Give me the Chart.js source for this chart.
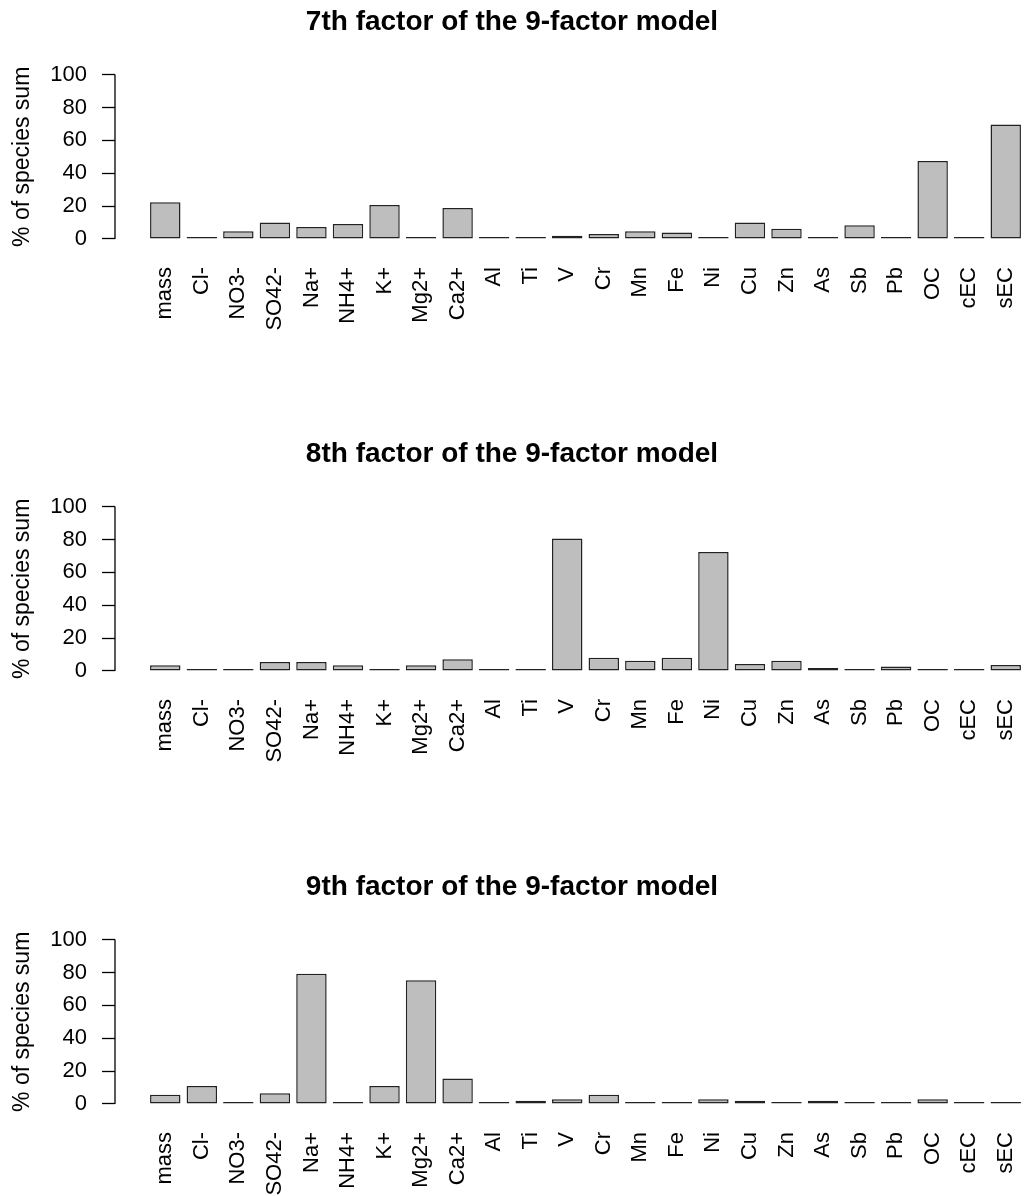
<!DOCTYPE html>
<html>
<head>
<meta charset="utf-8">
<script src="https://cdn.jsdelivr.net/npm/chart.js@4/dist/chart.umd.min.js"></script>
<style>
  html, body { margin: 0; padding: 0; background: #fff; overflow: hidden; }
  body { width: 1030px; height: 1196px; position: relative; }
  .panel { position: absolute; left: 0; width: 1030px; height: 432px; }
</style>
</head>
<body>
<div class="panel" style="top:0px"><canvas id="f7"></canvas></div>
<div class="panel" style="top:432px"><canvas id="f8"></canvas></div>
<div class="panel" style="top:865px"><canvas id="f9"></canvas></div>
<script>
const species = ["mass", "Cl-", "NO3-", "SO42-", "Na+", "NH4+", "K+", "Mg2+", "Ca2+", "Al", "Ti", "V",
    "Cr", "Mn", "Fe", "Ni", "Cu", "Zn", "As", "Sb", "Pb", "OC", "cEC", "sEC"];

const factor7 = [22.4, 0, 4.7, 10.0, 7.3, 9.1, 20.7, 0, 18.9, 0, 0, 2.0,
    3.0, 4.7, 3.9, 0, 10.0, 6.3, 0, 8.3, 0, 47.4, 0, 69.7];
const factor8 = [3.5, 0, 0, 5.5, 5.5, 3.5, 0, 3.5, 7.1, 0, 0, 80.6,
    8.0, 6.3, 8.0, 72.4, 4.3, 6.3, 1.8, 0, 2.7, 0.8, 0, 3.7];
const factor9 = [5.7, 11.0, 0, 6.5, 79.2, 0.8, 11.0, 75.3, 15.5, 0.8, 2.0, 2.9,
    5.7, 0.8, 0, 2.9, 2.0, 0.8, 2.0, 0, 0, 2.9, 0, 0];

const yMin = 0;
const yMax = 100;
const yStep = 20;

const FONT = "'Liberation Sans', Arial, sans-serif";

// R style y axis: line detached from the plot region
const rAxisLine = {
    id: "rAxisLine",
    afterDraw(chart) {
        const y = chart.scales.y;
        const x = chart.chartArea.left - 32;
        const ctx = chart.ctx;
        ctx.save();
        ctx.strokeStyle = "#000";
        ctx.lineWidth = 1.3;
        ctx.beginPath();
        ctx.moveTo(x, y.getPixelForValue(yMin));
        ctx.lineTo(x, y.getPixelForValue(yMax));
        ctx.stroke();
        ctx.restore();
    }
};

function drawFactor(canvasId, title, values) {
    const canvas = document.getElementById(canvasId);
    if (!canvas) return;

    new Chart(canvas, {
        type: "bar",
        data: {
            labels: species,
            datasets: [{
                data: values,
                backgroundColor: "#bebebe",
                borderColor: "#222",
                borderWidth: 1.5,
                borderSkipped: false,
                minBarLength: 2,
                categoryPercentage: 1,
                barPercentage: 0.833
            }]
        },
        options: {
            responsive: true,
            maintainAspectRatio: false,
            animation: false,
            layout: { padding: { left: 0, right: 6, top: 0, bottom: 0 } },
            plugins: {
                legend: { display: false },
                tooltip: { enabled: false },
                title: {
                    display: true,
                    text: title,
                    color: "#000",
                    font: { family: FONT, size: 28, weight: "bold" },
                    padding: { top: 5, bottom: 36 }
                }
            },
            scales: {
                x: {
                    grid: { display: false },
                    border: { display: false },
                    ticks: {
                        color: "#000",
                        font: { family: FONT, size: 22 },
                        minRotation: 90,
                        maxRotation: 90,
                        autoSkip: false,
                        padding: 20
                    },
                    afterFit(scale) {
                        scale.height = 193;
                        scale.paddingLeft = 0;
                        scale.paddingRight = 0;
                    }
                },
                y: {
                    min: yMin,
                    max: yMax,
                    border: { display: false },
                    grid: {
                        drawOnChartArea: false,
                        drawTicks: true,
                        tickLength: 45,
                        tickBorderDash: [13, 45],
                        tickColor: "#000",
                        tickWidth: 1.3
                    },
                    ticks: {
                        stepSize: yStep,
                        color: "#000",
                        font: { family: FONT, size: 22 },
                        padding: 15
                    },
                    title: {
                        display: true,
                        text: "% of species sum",
                        color: "#000",
                        font: { family: FONT, size: 23 },
                        padding: { top: 9, bottom: 0 }
                    },
                    afterFit(scale) { scale.width = 147; }
                }
            }
        },
        plugins: [rAxisLine]
    });
}

drawFactor("f7", "7th factor of the 9-factor model", factor7);
drawFactor("f8", "8th factor of the 9-factor model", factor8);
drawFactor("f9", "9th factor of the 9-factor model", factor9);
</script>
</body>
</html>
